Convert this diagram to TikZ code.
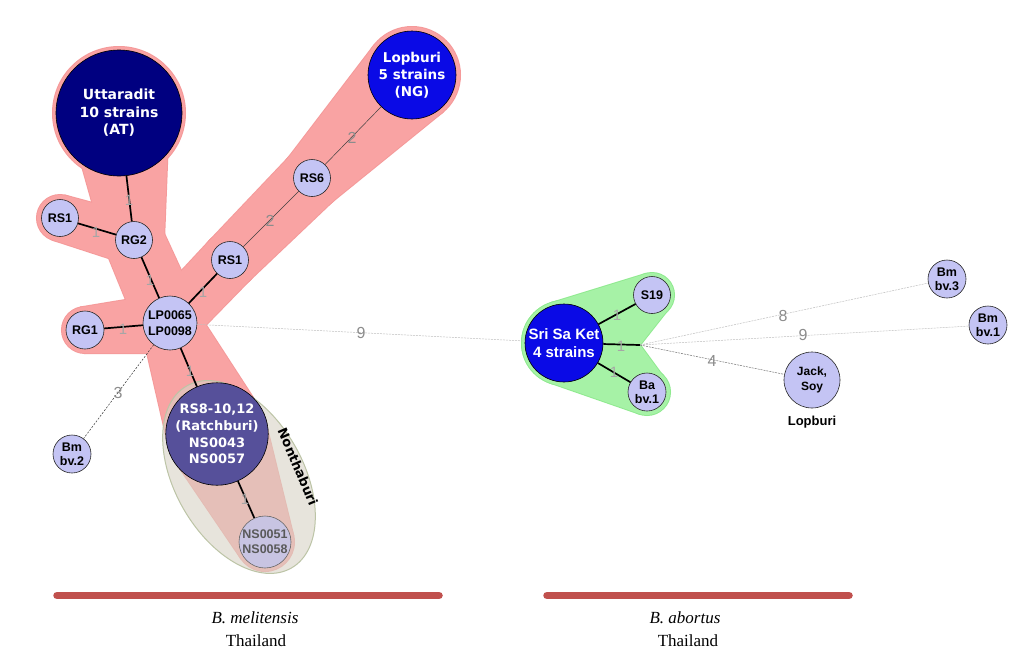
\documentclass[tikz,border=0pt]{standalone}
\usepackage{fontspec}
\setmainfont{Liberation Serif}
\newfontfamily\arialf{Liberation Sans}
\newfontfamily\verdf{DejaVu Sans}
\usetikzlibrary{calc}
\definecolor{lav}{HTML}{C4C4F4}
\definecolor{navyc}{HTML}{000080}
\definecolor{bbluec}{HTML}{0A0AE6}
\definecolor{slatec}{HTML}{56509A}
\definecolor{washc}{HTML}{C8C4E2}
\definecolor{pinkF}{HTML}{F9A3A3}
\definecolor{pinkB}{HTML}{F59A9A}
\definecolor{greenF}{HTML}{A6F2A6}
\definecolor{greenB}{HTML}{90EA90}
\definecolor{beigeF}{HTML}{D8D3C6}
\definecolor{beigeB}{HTML}{BCC4A6}
\definecolor{barc}{HTML}{C0504D}
\pgfdeclarelayer{bg}
\pgfdeclarelayer{mid}
\pgfsetlayers{bg,mid,main}
% convex hull of two circles (external tangents)
\newcommand\hullseg[5]{%
  \path[#1] let \p1=($(#4.center)-(#2.center)$), \n1={veclen(\x1,\y1)},
      \n2={acos((#3-#5)/\n1)}, \n3={\n2-180}, \n4={180-\n2}, \n5={-\n2} in
    ($(#2.center)!#3pt!\n2:(#4.center)$) -- ($(#4.center)!#5pt!\n3:(#2.center)$)
    -- ($(#4.center)!#5pt!\n4:(#2.center)$) -- ($(#2.center)!#3pt!\n5:(#4.center)$) -- cycle;
  \path[#1] (#2.center) circle[radius=#3pt];
  \path[#1] (#4.center) circle[radius=#5pt];}
\newcommand\pinkhalo[1]{%
  \path[#1] (utt.center) circle[radius=66pt];
  \hullseg{#1}{utt}{50}{rg2}{30}
  \hullseg{#1}{rg2}{30}{lp}{32}
  \hullseg{#1}{rs1a}{23}{rg2}{25}
  \hullseg{#1}{rg1}{23}{lp}{30}
  \hullseg{#1}{lop}{48}{rs6}{31}
  \hullseg{#1}{rs6}{31}{rs1b}{28}
  \hullseg{#1}{rs1b}{28}{lp}{27}
  \hullseg{#1}{lp}{29}{rs8}{50}
  \hullseg{#1}{rs8}{50}{ns51}{29}}
\newcommand\greenhalo[1]{%
  \hullseg{#1}{ssk}{42}{s19}{22}
  \hullseg{#1}{ssk}{42}{ba}{23}
  \path[#1] (ssk.center) -- (s19.center) -- ($(s19.center)+(14,17)$) -- (hub)
    -- ($(ba.center)+(15,-17)$) -- (ba.center) -- cycle;}
\tikzset{
  lnode/.style={circle, draw=black!85, line width=0.6pt, fill=lav, inner sep=0pt,
    align=center, text=black, font=\arialf\bfseries\fontsize{12.5}{14}\selectfont},
  dnode/.style={circle, draw=black, line width=0.6pt, inner sep=0pt, align=center,
    text=white, font=\verdf\bfseries\fontsize{13}{16.7}\selectfont},
  eone/.style={line width=1.7pt, black},
  etwo/.style={line width=0.5pt, black!75},
  ethree/.style={line width=0.5pt, black!80, dash pattern=on 2pt off 1.5pt},
  efour/.style={line width=0.5pt, black!55, dash pattern=on 2pt off 1pt},
  efar/.style={line width=0.5pt, black!25, dash pattern=on 2pt off 1pt},
  elab/.style={text=black!45, inner sep=0pt, font=\arialf\fontsize{16}{16}\selectfont},
  olab/.style={text=black!35, inner sep=0pt, font=\arialf\fontsize{15}{15}\selectfont},
  bar/.style={line width=7.5pt, line cap=round, barc},
  captxt/.style={font=\fontsize{17}{17}\selectfont, inner sep=0pt}
}
\begin{document}
\begin{tikzpicture}[x=1pt,y=-1pt]
\useasboundingbox (0,0) rectangle (1017,662);
% nodes
\node[dnode, fill=navyc, minimum size=126, font=\verdf\bfseries\fontsize{14}{17.5}\selectfont] (utt) at (119,113) {Uttaradit\\10 strains\\(AT)};
\node[dnode, fill=bbluec, minimum size=88, font=\verdf\bfseries\fontsize{13.5}{17}\selectfont] (lop) at (412,75) {Lopburi\\5 strains\\(NG)};
\node[lnode, minimum size=37] (rs6) at (312,178) {RS6};
\node[lnode, minimum size=37] (rs1b) at (230,260) {RS1};
\node[lnode, minimum size=37] (rg2) at (134,240) {RG2};
\node[lnode, minimum size=37] (rs1a) at (60,218) {RS1};
\node[lnode, minimum size=54, font=\arialf\bfseries\fontsize{12.5}{16}\selectfont] (lp) at (170,323) {LP0065\\LP0098};
\node[lnode, minimum size=38] (rg1) at (85,330) {RG1};
\node[lnode, minimum size=38] (bm2) at (72,454) {Bm\\bv.2};
\node[dnode, fill=slatec, minimum size=96] (rs8) at (217,434) {RS8-10,12\\(Ratchburi)\\NS0043\\NS0057};
\node[lnode, fill=washc, draw=black!60, text=black!65, minimum size=52, font=\arialf\bfseries\fontsize{12.5}{15.3}\selectfont] (ns51) at (265,542) {NS0051\\NS0058};
\node[font=\verdf\bfseries\fontsize{13}{13}\selectfont, rotate=-67, inner sep=0pt] (nonth) at (298,467) {Nonthaburi};
\node[dnode, fill=bbluec, minimum size=78, font=\arialf\bfseries\fontsize{15}{17.7}\selectfont] (ssk) at (564,343) {Sri Sa Ket\\4 strains};
\node[lnode, minimum size=37] (s19) at (652,295) {S19};
\node[lnode, minimum size=38] (ba) at (647,392) {Ba\\bv.1};
\coordinate (hub) at (640,345);
\node[lnode, minimum size=56, font=\arialf\bfseries\fontsize{12}{15}\selectfont] (jack) at (812,380) {Jack,\\Soy};
\node[font=\arialf\bfseries\fontsize{13}{13}\selectfont, inner sep=0pt] (lopl) at (812,422) {Lopburi};
\node[lnode, minimum size=38] (bm3) at (947,279) {Bm\\bv.3};
\node[lnode, minimum size=38] (bm1) at (988,325) {Bm\\bv.1};
% halos
\begin{pgfonlayer}{bg}
\fill[white] (0,0) rectangle (1017,662);
\pinkhalo{draw=pinkB, line width=2pt}
\pinkhalo{fill=pinkF}
\greenhalo{draw=greenB, line width=2pt}
\greenhalo{fill=greenF}
\end{pgfonlayer}
\begin{pgfonlayer}{mid}
\path[fill=beigeF, fill opacity=0.6, draw=beigeB, line width=1pt, rotate around={-60:(239,477)}] (239,477) ellipse [x radius=105, y radius=64];
\end{pgfonlayer}
% edges
\draw[eone] (utt) -- (rg2);
\draw[eone] (rs1a) -- (rg2);
\draw[eone] (rg2) -- (lp);
\draw[eone] (lp) -- (rs1b);
\draw[etwo] (rs1b) -- (rs6);
\draw[etwo] (rs6) -- (lop);
\draw[eone] (rg1) -- (lp);
\draw[ethree] (lp) -- (bm2);
\draw[eone] (lp) -- (rs8);
\draw[eone] (rs8) -- (ns51);
\draw[efar] (lp) -- (ssk);
\draw[eone] (ssk) -- (s19);
\draw[eone] (ssk) -- (ba);
\draw[eone] (ssk) -- (hub);
\draw[efar] (hub) -- (bm3);
\draw[efar] (hub) -- (bm1);
\draw[efour] (hub) -- (jack);
% edge labels
\node[olab] (l1) at (129,200) {1};
\node[olab] (l2) at (96,232) {1};
\node[olab] (l3) at (150,280) {1};
\node[olab] (l4) at (203,292) {1};
\node[elab] (l5) at (270,221) {2};
\node[elab] (l6) at (352,138) {2};
\node[olab] (l7) at (123,329) {1};
\node[elab] (l8) at (118,393) {3};
\node[olab] (l9) at (190,371) {1};
\node[olab] (l10) at (245,499) {1};
\node[elab] (l11) at (361,333) {9};
\node[olab] (l12) at (617,315) {1};
\node[olab] (l13) at (621,346) {1};
\node[olab] (l14) at (614,372) {1};
\node[elab] (l15) at (783,316) {8};
\node[elab] (l16) at (803,335) {9};
\node[elab] (l17) at (712,361) {4};
% bars and captions
\draw[bar] (57,595.5) -- (439,595.5);
\draw[bar] (547,595.5) -- (849,595.5);
\node[captxt] (c1) at (255,618) {\itshape B. melitensis};
\node[captxt] (c2) at (256,641) {Thailand};
\node[captxt] (c3) at (685,618) {\itshape B. abortus};
\node[captxt] (c4) at (688,641) {Thailand};
\end{tikzpicture}
\end{document}
